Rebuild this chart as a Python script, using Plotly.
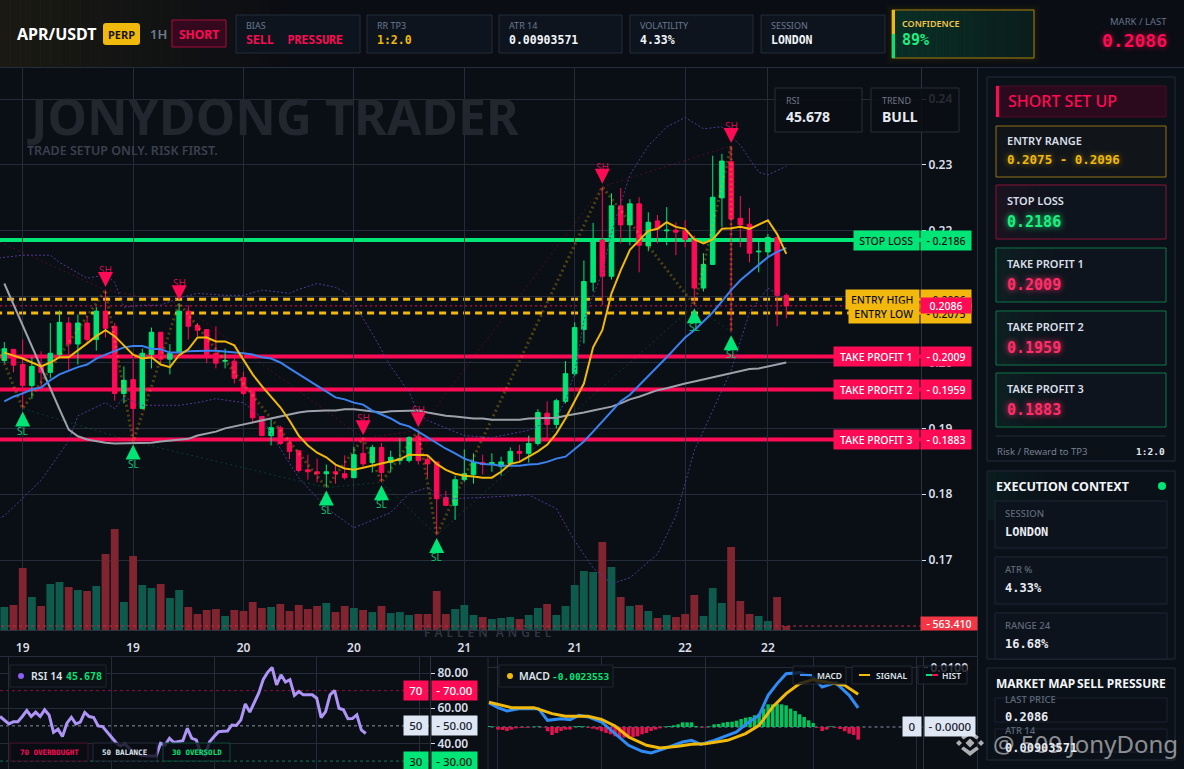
import plotly.graph_objects as go

W, H = 1184, 769

GREEN = "#00e676"
RED = "#ff0a54"
GOLD = "#f0b90b"
BG = "#0a0e15"
GRID = "#252c39"
FONT = "Noto Sans"
MONO = "DejaVu Sans Mono"

# candles
opens = [.2003, .2020, .1997, .1965, .1996, .1985, .2012, .2060, .2028, .2060, .2035, .2078, .2055, .1953, .1974, .1930,
         .2012, .2046, .2005, .2015, .2078, .2056, .2050, .2014, .2002, .2002, .1977, .1956, .1918, .1889, .1901, .1878,
         .1866, .1837, .1834, .1831, .1834, .1831, .1825, .1862, .1848, .1871, .1848, .1851, .1851, .1888, .1853, .1849,
         .1795, .1783, .1822, .1830, .1848, .1846, .1842, .1846, .1865, .1862, .1877, .1923, .1906, .1941, .1983, .2050,
         .2122, .2186, .2131, .2238, .2209, .2241, .2177, .2215, .2200, .2201, .2200, .2187, .2113, .2149, .2250, .2305,
         .2219, .2210, .2168, .2168, .2190, .2102]
highs = [.2031, .2020, .2035, .2008, .2017, .2060, .2079, .2069, .2073, .2070, .2084, .2110, .2060, .1994, .2005, .2021,
         .2053, .2046, .2028, .2090, .2087, .2060, .2050, .2055, .2021, .2012, .1986, .1958, .1918, .1913, .1904, .1886,
         .1866, .1860, .1854, .1845, .1846, .1859, .1872, .1885, .1875, .1878, .1866, .1885, .1888, .1897, .1859, .1849,
         .1805, .1828, .1868, .1862, .1860, .1862, .1857, .1871, .1875, .1889, .1929, .1941, .1945, .2002, .2061, .2155,
         .2212, .2267, .2257, .2265, .2248, .2251, .2228, .2224, .2236, .2213, .2216, .2193, .2166, .2314, .2317, .2329,
         .2253, .2235, .2183, .2195, .2190, .2105]
lows = [.1999, .1985, .1930, .1945, .1962, .1976, .2008, .1988, .1997, .2028, .2018, .2038, .1942, .1938, .1880, .1930,
        .1991, .1999, .1982, .2014, .2035, .2040, .1999, .1991, .1991, .1968, .1950, .1907, .1888, .1874, .1875, .1853,
        .1833, .1822, .1818, .1810, .1816, .1822, .1825, .1842, .1833, .1818, .1833, .1845, .1848, .1845, .1825, .1738,
        .1783, .1761, .1819, .1816, .1830, .1834, .1828, .1843, .1848, .1848, .1874, .1881, .1900, .1938, .1980, .2029,
        .2108, .2087, .2126, .2181, .2178, .2137, .2169, .2181, .2178, .2163, .2175, .2087, .2108, .2148, .2206, .2046,
        .2175, .2152, .2137, .2160, .2055, .2067]
closes = [.2021, .1996, .1965, .1994, .1985, .2014, .2061, .2028, .2060, .2035, .2078, .2052, .1953, .1973, .1930, .2014,
          .2046, .2005, .2014, .2078, .2055, .2049, .2012, .1999, .2003, .1976, .1953, .1916, .1889, .1901, .1877, .1865,
          .1836, .1834, .1831, .1834, .1831, .1825, .1860, .1846, .1871, .1833, .1856, .1854, .1886, .1851, .1846, .1793,
          .1783, .1822, .1831, .1848, .1845, .1848, .1849, .1865, .1862, .1877, .1924, .1906, .1942, .1983, .2053, .2123,
          .2184, .2131, .2238, .2209, .2241, .2178, .2213, .2203, .2201, .2198, .2187, .2113, .2149, .2251, .2306, .2218,
          .2209, .2166, .2169, .2190, .2102, .2086]
volumes = [3240, 3520, 8730, 4650, 3380, 6480, 6760, 6050, 5630, 5490, 6200, 10700, 14220, 3940, 10420, 6340, 5910, 6480,
           4510, 5630, 3240, 2250, 2820, 2960, 1970, 2820, 2680, 3940, 3100, 3240, 3660, 2680, 3520, 2960, 3380, 3800,
           2530, 3380, 3100, 2820, 2530, 3380, 2390, 2530, 2110, 2250, 2250, 5490, 2250, 2960, 3520, 2110, 1830, 1550,
           1690, 1830, 1550, 2110, 3100, 3660, 2110, 3380, 6340, 8310, 8170, 12390, 8870, 4650, 3380, 3520, 2680, 1690,
           2110, 1830, 2250, 4930, 1970, 5910, 3800, 11690, 4080, 2250, 1970, 1270, 4650, 563.41]

# moving averages
ema_fast = [.2015, .2011, .2006, .2000, .1994, .2000, .2008, .2008, .2018, .2029, .2040, .2049, .2040, .2026, .2012, .2006,
            .2008, .1997, .1993, .2011, .2020, .2038, .2038, .2032, .2032, .2026, .2003, .1982, .1964, .1948, .1932, .1912,
            .1889, .1874, .1863, .1856, .1845, .1839, .1837, .1840, .1843, .1846, .1849, .1853, .1860, .1860, .1859, .1846,
            .1837, .1831, .1828, .1827, .1825, .1825, .1834, .1846, .1849, .1857, .1865, .1875, .1892, .1915, .1942, .1968,
            .2023, .2049, .2105, .2140, .2171, .2186, .2200, .2203, .2213, .2206, .2203, .2187, .2181, .2187, .2203, .2204,
            .2206, .2203, .2210, .2216, .2195, .2165]
ema_mid = [.1941, .1948, .1953, .1959, .1962, .1973, .1982, .1988, .1993, .1997, .2006, .2012, .2018, .2023, .2025, .2025,
           .2021, .2020, .2015, .2015, .2017, .2018, .2018, .2018, .2017, .2015, .2014, .2012, .2008, .2006, .2000, .1991,
           .1982, .1973, .1965, .1955, .1947, .1944, .1939, .1936, .1927, .1921, .1915, .1907, .1903, .1895, .1886, .1877,
           .1869, .1862, .1854, .1849, .1846, .1845, .1843, .1843, .1843, .1845, .1846, .1849, .1854, .1857, .1868, .1880,
           .1895, .1910, .1926, .1941, .1951, .1965, .1979, .1993, .2008, .2023, .2038, .2049, .2063, .2076, .2093, .2110,
           .2125, .2137, .2148, .2160, .2168, .2174]
ma_slow = [.2120, .2088, .2056, .2025, .1993, .1959, .1929, .1898, .1888, .1883, .1880, .1878, .1877, .1877, .1877, .1878,
           .1878, .1880, .1881, .1883, .1884, .1889, .1892, .1895, .1900, .1903, .1906, .1909, .1913, .1916, .1919, .1922,
           .1924, .1926, .1927, .1927, .1927, .1929, .1929, .1927, .1926, .1924, .1926, .1926, .1927, .1927, .1924, .1921,
           .1919, .1918, .1916, .1915, .1915, .1913, .1913, .1913, .1913, .1915, .1915, .1916, .1916, .1919, .1921, .1924,
           .1927, .1930, .1933, .1938, .1944, .1948, .1953, .1958, .1961, .1965, .1968, .1971, .1974, .1977, .1980, .1983,
           .1986, .1990, .1991, .1994, .1997, .2000]

# bands, only where the curve bends
upper_idx = [-1, 2, 5, 6, 8, 9, 11, 12, 13, 15, 17, 19, 21, 24, 26, 28, 31, 32, 34, 36, 37, 38, 40, 42, 44, 45, 46, 48, 50,
             53, 57, 60, 61, 62, 63, 64, 65, 66, 67, 68, 70, 72, 74, 76, 78, 80, 82, 83, 85]
upper_band = [.2158, .2163, .2163, .2152, .2136, .2128, .2133, .2122, .2084, .2087, .2087, .2098, .2105, .2102, .2102,
              .2110, .2105, .2111, .2120, .2114, .2107, .2090, .2044, .1994, .1955, .1923, .1912, .1900, .1889, .1886,
              .1897, .1916, .1942, .1985, .2064, .2102, .2136, .2198, .2242, .2285, .2329, .2358, .2372, .2355, .2358,
              .2330, .2289, .2285, .2298]
lower_idx = [-1, 0, 4, 7, 8, 11, 12, 13, 15, 19, 21, 23, 26, 28, 30, 32, 35, 38, 42, 44, 46, 48, 52, 57, 60, 62, 64, 66, 68,
             71, 73, 75, 77, 79, 81, 83, 85]
lower_band = [.1760, .1767, .1821, .1881, .1919, .1939, .1930, .1947, .1935, .1935, .1939, .1945, .1939, .1916, .1869,
              .1825, .1779, .1749, .1772, .1801, .1810, .1793, .1795, .1799, .1778, .1729, .1688, .1664, .1673, .1709,
              .1767, .1866, .1927, .1988, .2076, .2113, .2095]

# swing points
sh_idx = [11, 19, 39, 45, 65, 79]
sl_idx = [2, 14, 35, 41, 47, 75, 79]
zigzag_idx = [-1, 2, 11, 14, 19, 35, 39, 41, 45, 47, 65, 75, 79, 79]
zigzag_kind = ["", "l", "h", "l", "h", "l", "h", "l", "h", "l", "h", "l", "h", "l"]
zigzag_start = .2034
sh_line_start = (-1, .2186)

# trade levels
level_names = ["STOP LOSS", "ENTRY HIGH", "ENTRY LOW", "TAKE PROFIT 1", "TAKE PROFIT 2", "TAKE PROFIT 3"]
level_prices = [.2186, .2096, .2075, .2009, .1959, .1883]
level_colors = [GREEN, "#f3b80d", "#f3b80d", RED, RED, RED]
level_text = ["#0b0f17", "#0b0f17", "#0b0f17", "#ffffff", "#ffffff", "#ffffff"]
level_left = [855, 847, 850, 835, 835, 835]
last_price = .2086

price_ticks = [.17, .18, .19, .20, .21, .22, .23, .24]
time_ticks = [2, 14, 26, 38, 50, 62, 74, 83]
time_labels = ["19", "19", "20", "20", "21", "21", "22", "22"]

rsi_values = [55.3, 53.0, 51.1, 52.4, 52.4, 55.3, 58.7, 55.3, 57.8, 55.3, 59.1, 56.2, 46.3, 48.1, 43.9, 51.5, 54.9, 51.1,
              52.1, 57.6, 55.3, 54.7, 50.0, 49.6, 46.7, 43.9, 40.5, 38.6, 39.7, 37.2, 35.3, 33.8, 33.2, 32.9, 32.9, 32.9,
              40.1, 39.1, 42.9, 40.5, 41.0, 41.6, 48.6, 42.9, 42.0, 34.4, 33.4, 41.0, 43.9, 46.7, 46.9, 47.1, 50.5, 50.2,
              53.4, 62.5, 57.8, 63.5, 68.6, 76.2, 80.4, 83.2, 73.3, 79.0, 74.9, 76.2, 67.3, 69.5, 67.6, 67.6, 67.6, 65.7,
              54.7, 58.1, 67.6, 70.1, 60.0, 59.1, 54.0, 54.1, 56.2, 47.7, 45.678]
rsi_ticks = [40, 60, 80]

macd_idx = [0, 2, 4, 7, 11, 13, 16, 18, 20, 22, 25, 28, 31, 34, 36, 39, 43, 45, 47, 50, 55, 57, 60, 62, 64, 66, 69, 72, 74,
            77, 80, 82]
macd_line = [.00407, .00328, .00271, .00311, .00311, .00113, .00141, .00124, .00198, .00170, .00085, -.00113, -.00311,
             -.00412, -.00441, -.00367, -.00254, -.00226, -.00294, -.00226, -.00085, .00045, .00198, .00537, .00735,
             .00904, .00921, .00848, .00678, .00751, .00537, .00322]
signal_idx = [0, 2, 5, 10, 14, 17, 22, 25, 28, 31, 35, 38, 42, 45, 48, 53, 57, 60, 63, 66, 69, 72, 75, 79, 82]
signal_line = [.00418, .00379, .00328, .00328, .00226, .00181, .00181, .00130, .00017, -.00170, -.00311, -.00356, -.00328,
               -.00294, -.00283, -.00226, -.00113, .00028, .00339, .00565, .00735, .00802, .00763, .00706, .00554]
macd_hist = [.00017, .00006, -.00045, -.00051, -.00068, -.00045, -.00023, -.00011, -.00011, -.00006, .00006, .00011,
             -.00006, -.00073, -.00136, -.00102, -.00068, -.00045, -.00045, .00011, .00017, .00011, -.00011, -.00028,
             -.00045, -.00073, -.00102, -.00124, -.00158, -.0017, -.00181, -.0017, -.0017, -.00158, -.00124, -.00102,
             -.00068, -.00045, -.00023, .00006, .00017, .00028, .00045, .00079, .00079, .00079, .00017, -.00006, -.00006,
             .00011, .00045, .00051, .00073, .00085, .0009, .00107, .00136, .00158, .0017, .00198, .00226, .00311, .00384,
             .00384, .00396, .00384, .00367, .00311, .00271, .00215, .0017, .00113, .00068, -.00011, -.00068, -.00045,
             .00011, -.00011, -.00034, -.00073, -.00113, -.00136, -.00215]

# header cards and side panel text
header_cards = [("BIAS", "SELL  PRESSURE", RED, 236, 360), ("RR TP3", "1:2.0", GOLD, 367, 492),
                ("ATR 14", "0.00903571", "#f2f5fa", 499, 622), ("VOLATILITY", "4.33%", "#f2f5fa", 630, 753),
                ("SESSION", "LONDON", "#f2f5fa", 761, 885)]
setup_cards = [("STOP LOSS", "0.2186", "#1cf07f", "#8b1238", 185, 239), ("TAKE PROFIT 1", "0.2009", "#ff2d68", "#0d7a4c", 248, 302),
               ("TAKE PROFIT 2", "0.1959", "#ff2d68", "#0d7a4c", 311, 365), ("TAKE PROFIT 3", "0.1883", "#ff2d68", "#0d7a4c", 373, 427)]
context_cards = [("SESSION", "LONDON", 501, 548), ("ATR %", "4.33%", 557, 604), ("RANGE 24", "16.68%", 613, 659)]
map_cards = [("LAST PRICE", "0.2086", 698, 722), ("ATR 14", "0.00903571", 729, 752)]


def px(x):
    return x / W


def py(y):
    return 1 - y / H


shapes = []
annos = []


def box(x0, y0, x1, y1, fill="rgba(0,0,0,0)", line=None, width=1, layer="below"):
    shapes.append(dict(type="rect", xref="paper", yref="paper", x0=px(x0), x1=px(x1), y0=py(y0), y1=py(y1),
                       fillcolor=fill, line=dict(color=line or "rgba(0,0,0,0)", width=width if line else 0), layer=layer))


def fade(x0, y0, x1, y1, rgb, a0, a1, n=20, layer="below"):
    # no gradient fill for shapes, so lay thin strips
    step = (x1 - x0) / n
    for k in range(n):
        a = a0 + (a1 - a0) * k / (n - 1)
        box(x0 + k * step, y0, x0 + (k + 1) * step + 0.5, y1, f"rgba({rgb},{a:.3f})", layer=layer)


def text(x, y, s, size=11, color="#ffffff", weight=400, family=FONT, anchor="left", shadow=None, opacity=None):
    font = dict(size=size, color=color, family=family, weight=weight)
    if shadow:
        font["shadow"] = shadow
    a = dict(xref="paper", yref="paper", x=px(x), y=py(y), text=s, showarrow=False, font=font, xanchor=anchor,
             yanchor="middle", borderpad=0)
    if opacity is not None:
        a["opacity"] = opacity
    annos.append(a)


def path(d, color, layer="above"):
    shapes.append(dict(type="path", xref="paper", yref="paper", path=d, fillcolor=color, line=dict(width=0), layer=layer))


def pts(seq):
    return "M" + "L".join(f"{px(x):.5f},{py(y):.5f}" for x, y in seq) + "Z"


def diamond(cx, cy, r, color):
    path(pts([(cx - r, cy), (cx, cy - r), (cx + r, cy), (cx, cy + r)]), color)


# page background
box(0, 0, W, H, BG)
box(0, 0, W, 67, "#0a0d14")
fade(0, 0, 320, 67, "240,185,11", 0.07, 0.0, 32)
shapes.append(dict(type="line", xref="paper", yref="paper", x0=0, x1=1, y0=py(67.5), y1=py(67.5),
                   line=dict(color="#262d3a", width=1), layer="below"))

# header
text(16, 34, "APR/USDT", 16, "#ffffff", 700)
path("M" + f"{px(106)},{py(23)}L{px(137)},{py(23)}Q{px(140)},{py(23)} {px(140)},{py(26)}L{px(140)},{py(42)}"
     f"Q{px(140)},{py(45)} {px(137)},{py(45)}L{px(106)},{py(45)}Q{px(103)},{py(45)} {px(103)},{py(42)}"
     f"L{px(103)},{py(26)}Q{px(103)},{py(23)} {px(106)},{py(23)}Z", GOLD, layer="below")
text(121.5, 34, "PERP", 11, "#1a1408", 700, anchor="center")
text(149, 34, "1H", 13, "#6d7a8c", 600)
box(172, 20, 226, 47, "#35091d", "#a50f3d", 1)
text(199, 34, "SHORT", 12, RED, 700, anchor="center")

for name, val, col, x0, x1 in header_cards:
    box(x0, 15, x1, 53, "#0e141e", "#232c3a", 1)
    text(x0 + 9, 26, name, 9, "#6a7890")
    text(x0 + 9, 40, val, 11.5, col, 700, MONO)

for k in range(4):
    box(892 - 2 * k, 10 - 2 * k, 1034 + 2 * k, 58 + 2 * k, f"rgba(240,185,11,{0.035 - k * 0.007:.3f})")
box(892, 10, 1034, 58, "#0b1a1c", "#a9860f", 1)
fade(895, 11, 1033, 57, "0,230,118", 0.10, 0.02, 20)
box(892, 10, 895, 34, GOLD)
box(892, 34, 895, 58, GREEN)
text(901, 23, "CONFIDENCE", 9, "#f3c64a", 600)
text(901, 40, "89%", 15, "#1cf07f", 700, MONO)

text(1168, 22, "MARK / LAST", 9.5, "#66728a", anchor="right")
text(1168, 40, "0.2086", 18, RED, 700, MONO, anchor="right", shadow="0 0 6px rgba(255,10,84,.6)")

# watermark text on the main pane
text(26, 116, "JONYDONG TRADER", 50, "#21262f", 700)
text(26, 150, "TRADE SETUP ONLY. RISK FIRST.", 12.5, "#3a414e", 600)
text(488, 632, "\u2009\u2009".join("FALLEN") + "\u2009\u2009\u2009\u2009" + "\u2009\u2009".join("ANGEL"), 12, "#2f3540", 600, anchor="center")

# pane separators
shapes.append(dict(type="line", xref="paper", yref="paper", x0=0, x1=px(978), y0=py(656.5), y1=py(656.5),
                   line=dict(color="#252c3c", width=1), layer="below"))
shapes.append(dict(type="line", xref="paper", yref="paper", x0=px(488), x1=px(488), y0=py(657), y1=0,
                   line=dict(color="#252c3c", width=1), layer="below"))
shapes.append(dict(type="line", xref="paper", yref="paper", x0=px(977.5), x1=px(977.5), y0=py(68), y1=0,
                   line=dict(color="#252c3c", width=1), layer="below"))

# overlay stat boxes on the chart
for x0, x1, name, val in [(775, 862, "RSI", "45.678"), (871, 959, "TREND", "BULL")]:
    box(x0, 88, x1, 132, "rgba(10,13,20,.86)", "#262e3c", 1, layer="above")
    text(x0 + 10, 101, name, 9, "#6d7686")
    text(x0 + 10, 116, val, 14, "#e6ebf2", 700)

# right side panels
box(978, 68, W, H, "#0a1018")
box(987, 77, 1175, 461, "#0b1119", "#212b3b", 1)
box(996, 86, 1166, 117, "#2a0a1c", "#4a0d28", 1)
box(996, 86, 999, 117, RED)
text(1007, 101, "SHORT SET UP", 16, RED, 500)
box(996, 126, 1166, 177, "#11151a", "#8f7214", 1)
text(1006, 140, "ENTRY RANGE", 11, "#d9dfe8", 600)
text(1006, 159, "0.2075 - 0.2096", 12.5, GOLD, 700, MONO, shadow="0 0 6px rgba(240,185,11,.6)")
for name, val, col, edge, y0, y1 in setup_cards:
    box(996, y0, 1166, y1, "#0e141d", edge, 1)
    fade(997, y0 + 1, 1060, y1 - 1, "0,230,118" if edge == "#0d7a4c" else "255,10,84", 0.05, 0.0, 10)
    text(1006, y0 + 15, name, 11, "#d9dfe8", 600)
    text(1006, y0 + 37, val, 15, col, 700, MONO, shadow=f"0 0 6px {col}")
shapes.append(dict(type="line", xref="paper", yref="paper", x0=px(996), x1=px(1166), y0=py(436), y1=py(436),
                   line=dict(color="#212b3b", width=1), layer="below"))
text(996, 451, "Risk / Reward to TP3", 9.5, "#76808f")
text(1166, 451, "1:2.0", 9.5, "#e4e8ef", 700, MONO, anchor="right")

box(987, 471, 1175, 659, "#0b1119", "#212b3b", 1)
fade(988, 472, 1060, 520, "0,230,118", 0.05, 0.0, 10)
text(995, 486, "EXECUTION CONTEXT", 12.5, "#f2f5fa", 700)
shapes.append(dict(type="circle", xref="paper", yref="paper", x0=px(1158), x1=px(1166), y0=py(482), y1=py(490),
                   fillcolor=GREEN, line=dict(width=0), layer="below"))
for name, val, y0, y1 in context_cards:
    box(995, y0, 1167, y1, "#0d131c", "#1e2735", 1)
    text(1004, y0 + 12, name, 9.5, "#5f6a7a", 500)
    text(1004, y0 + 31, val, 12, "#e8ecf3", 700, MONO)

box(987, 668, 1175, 760, "#0b1119", "#212b3b", 1)
text(995, 683, "MARKET MAP", 12, "#f2f5fa", 700)
text(1167, 683, "SELL PRESSURE", 12, "#f2f5fa", 700, anchor="right")
for name, val, y0, y1 in map_cards:
    box(995, y0, 1167, y1, "#0b1018", "#1a2230", 1)
    text(1004, y0 + 1, name, 9.5, "#5f6a7a", 500)
    text(1004, y0 + 19, val, 12, "#e8ecf3", 700, MONO)

# rsi pane legends
box(10, 665, 106, 687, "#0b0f16", "#1e2431", 1, layer="above")
shapes.append(dict(type="circle", xref="paper", yref="paper", x0=px(18), x1=px(24), y0=py(673), y1=py(679),
                   fillcolor="#8b5cf6", line=dict(width=0), layer="above"))
text(30, 676, "RSI 14", 10.5, "#dfe4ec", 600)
text(65, 676, "45.678", 10, GREEN, 600, MONO)
for x0, x1, s, col, edge in [(10, 88, "70 OVERBOUGHT", RED, "#4a0d28"), (93, 157, "50 BALANCE", "#dfe4ec", "#222937"),
                             (163, 230, "30 OVERSOLD", GREEN, "#0c4a38")]:
    box(x0, 743, x1, 761, "rgba(10,13,20,.8)", edge, 1, layer="above")
    text((x0 + x1) / 2, 752, s, 7.5, col, 600, MONO, anchor="center")

# macd pane legends
box(499, 665, 613, 687, "#0b0f16", "#1e2431", 1, layer="above")
shapes.append(dict(type="circle", xref="paper", yref="paper", x0=px(507), x1=px(513), y0=py(673), y1=py(679),
                   fillcolor=GOLD, line=dict(width=0), layer="above"))
text(518, 676, "MACD", 10.5, "#dfe4ec", 600)
text(551, 676, "-0.0023553", 9.5, GREEN, 600, MONO)
for x0, x1, s, tx in [(793, 846, "MACD", 816), (852, 912, "SIGNAL", 875), (918, 967, "HIST", 941)]:
    box(x0, 666, x1, 684, "rgba(10,13,20,.8)", "#222937", 1, layer="above")
    text(tx, 675, s, 8.5, "#dfe4ec", 600)
box(800, 674, 812, 676, "#3b8bf6", layer="above")
box(859, 674, 870, 676, GOLD, layer="above")
box(926, 674, 932, 676, GREEN, layer="above")
box(932, 674, 938, 676, RED, layer="above")

# logo and repost mark, bottom right
for cx, cy, r in [(970, 743, 4.5), (959, 743, 3), (981, 743, 3)]:
    diamond(cx, cy, r, "rgba(215,215,215,.8)")
path(pts([(970, 730), (979, 737), (976.5, 739.5), (970, 735), (963.5, 739.5), (961, 737)]), "rgba(215,215,215,.8)")
path(pts([(970, 756), (979, 749), (976.5, 746.5), (970, 751), (963.5, 746.5), (961, 749)]), "rgba(215,215,215,.8)")

# price levels stay under the candles
for price, col, name in zip(level_prices, level_colors, level_names):
    entry = name.startswith("ENTRY")
    shapes.append(dict(type="line", xref="x", yref="y2", x0=-1, x1=100, y0=price, y1=price, layer="below",
                       line=dict(color=col, width=3 if entry else 4, dash="7px,5px" if entry else "solid")))
shapes.append(dict(type="line", xref="x", yref="y2", x0=-1, x1=100, y0=last_price, y1=last_price, layer="below",
                   line=dict(color=RED, width=1, dash="2px,3px")))
shapes.append(dict(type="line", xref="x", yref="y", x0=-1, x1=100, y0=volumes[-1], y1=volumes[-1], layer="above",
                   line=dict(color="#b8324a", width=1, dash="3px,3px")))
for lv, col in [(70, "#8b1238"), (50, "#8a93a3"), (30, "#0f7a55")]:
    shapes.append(dict(type="line", xref="x2", yref="y3", x0=0, x1=97, y0=lv, y1=lv, layer="below",
                       line=dict(color=col, width=1, dash="3px,3px")))
shapes.append(dict(type="line", xref="x3", yref="y4", x0=-1, x1=98, y0=0, y1=0, layer="below",
                   line=dict(color="#8a93a3", width=1, dash="3px,3px")))

# price tags at the right
for name, price, col, tc, left in zip(level_names, level_prices, level_colors, level_text, level_left):
    font = dict(size=10.5, color=tc, family=FONT, weight=500)
    annos.append(dict(xref="paper", yref="y2", x=px(919.5), y=price, text=name, xanchor="right", yanchor="middle",
                      width=919.5 - left, height=19, bgcolor=col, showarrow=False, font=font, align="center", borderpad=0))
    annos.append(dict(xref="paper", yref="y2", x=px(920), y=price, text="- " + f"{price:.4f}", xanchor="left",
                      yanchor="middle", width=50, height=19, bgcolor=col, showarrow=False, font=font, align="center", borderpad=0))
annos.append(dict(xref="paper", yref="y2", x=px(920), y=last_price, text=f"{last_price:.4f}", xanchor="left",
                  yanchor="middle", width=50, height=15, bgcolor=RED, showarrow=False, align="center", borderpad=0,
                  font=dict(size=10.5, color="#ffffff", family=FONT, weight=500)))
annos.append(dict(xref="paper", yref="paper", x=px(920), y=py(623.5), text="- 563.410", xanchor="left", yanchor="middle",
                  width=56, height=13, bgcolor="#f23645", showarrow=False, align="center", borderpad=0,
                  font=dict(size=10.5, color="#ffffff", family=FONT, weight=500)))

for lv, bg, tc in [(70, RED, "#ffffff"), (50, "#dfe7f5", "#1a202c"), (30, GREEN, "#0b2018")]:
    font = dict(size=11.5, color=tc, family=FONT, weight=500)
    annos.append(dict(xref="paper", yref="y3", x=px(429), y=lv, text=str(lv), xanchor="right", yanchor="middle", width=24,
                      height=19, bgcolor=bg, showarrow=False, font=font, align="center", borderpad=0))
    annos.append(dict(xref="paper", yref="y3", x=px(430.5), y=lv, text=f"- {lv}.00", xanchor="left", yanchor="middle",
                      width=45, height=19, bgcolor=bg, showarrow=False, font=font, align="center", borderpad=0))
font = dict(size=11.5, color="#1a202c", family=FONT, weight=500)
annos.append(dict(xref="paper", yref="y4", x=px(922), y=0, text="0", xanchor="right", yanchor="middle", width=18, height=19,
                  bgcolor="#dfe7f5", showarrow=False, font=font, align="center", borderpad=0))
annos.append(dict(xref="paper", yref="y4", x=px(923.5), y=0, text="- 0.0000", xanchor="left", yanchor="middle", width=50,
                  height=19, bgcolor="#dfe7f5", showarrow=False, font=font, align="center", borderpad=0))

# swing labels
for i in sh_idx:
    annos.append(dict(xref="x", yref="y2", x=i, y=highs[i], text="SH", ax=0, ay=-20, showarrow=True, arrowhead=2, arrowsize=1,
                      arrowwidth=3, arrowcolor=RED, standoff=3, font=dict(size=10, color="#c8104c", family=FONT)))
for i in sl_idx:
    annos.append(dict(xref="x", yref="y2", x=i, y=lows[i], text="SL", ax=0, ay=22, showarrow=True, arrowhead=2, arrowsize=1,
                      arrowwidth=3, arrowcolor=GREEN, standoff=3, font=dict(size=10, color="#12c271", family=FONT)))

# repost mark sits on top of the panel
text(992, 743, "@ 509 JonyDong", 24, "rgba(225,225,225,.62)", 400, "Noto Sans")

candle_x = list(range(len(closes)))
vol_colors = ["#0e5a4d" if c >= o else "#80252f" for o, c in zip(opens, closes)]
zigzag_y = [zigzag_start] + [highs[i] if k == "h" else lows[i] for i, k in zip(zigzag_idx[1:], zigzag_kind[1:])]

fig = go.Figure()
fig.add_trace(go.Bar(x=candle_x, y=volumes, width=0.85, marker=dict(color=vol_colors, line=dict(width=0)), xaxis="x", yaxis="y"))
fig.add_trace(go.Candlestick(x=candle_x, open=opens, high=highs, low=lows, close=closes, xaxis="x", yaxis="y2",
                             increasing=dict(line=dict(color=GREEN, width=1), fillcolor=GREEN),
                             decreasing=dict(line=dict(color=RED, width=1), fillcolor=RED), whiskerwidth=0))
fig.add_trace(go.Scatter(x=upper_idx, y=upper_band, mode="lines", line=dict(color="#4f3b94", width=1, dash="2px,2px"), xaxis="x", yaxis="y2"))
fig.add_trace(go.Scatter(x=lower_idx, y=lower_band, mode="lines", line=dict(color="#4f3b94", width=1, dash="2px,2px"), xaxis="x", yaxis="y2"))
fig.add_trace(go.Scatter(x=zigzag_idx, y=zigzag_y, mode="lines", line=dict(color="rgba(240,185,11,.3)", width=3, dash="2px,3px"), xaxis="x", yaxis="y2"))
fig.add_trace(go.Scatter(x=[sh_line_start[0]] + sh_idx, y=[sh_line_start[1]] + [highs[i] for i in sh_idx], mode="lines",
                         line=dict(color="rgba(255,10,84,.28)", width=1, dash="2px,3px"), xaxis="x", yaxis="y2"))
fig.add_trace(go.Scatter(x=sl_idx, y=[lows[i] for i in sl_idx], mode="lines",
                         line=dict(color="rgba(0,230,118,.22)", width=1, dash="2px,3px"), xaxis="x", yaxis="y2"))
fig.add_trace(go.Scatter(x=candle_x, y=ma_slow, mode="lines", line=dict(color="#9ca1ab", width=2), xaxis="x", yaxis="y2"))
fig.add_trace(go.Scatter(x=candle_x, y=ema_mid, mode="lines", line=dict(color="#3b82f0", width=2), xaxis="x", yaxis="y2"))
fig.add_trace(go.Scatter(x=candle_x, y=ema_fast, mode="lines", line=dict(color=GOLD, width=2), xaxis="x", yaxis="y2"))

fig.add_trace(go.Scatter(x=list(range(len(rsi_values))), y=rsi_values, mode="lines", line=dict(color="#ae95f5", width=3), xaxis="x2", yaxis="y3"))

hist_x = list(range(len(macd_hist)))
fig.add_trace(go.Bar(x=hist_x, y=macd_hist, width=0.78, marker=dict(color=["#00c45e" if v >= 0 else "#e6114f" for v in macd_hist], line=dict(width=0)),
                     xaxis="x3", yaxis="y4"))
fig.add_trace(go.Scatter(x=macd_idx, y=macd_line, mode="lines", line=dict(color="#2f8cf5", width=3), xaxis="x3", yaxis="y4"))
fig.add_trace(go.Scatter(x=signal_idx, y=signal_line, mode="lines", line=dict(color=GOLD, width=3), xaxis="x3", yaxis="y4"))

tick_font = dict(size=12, color="#d8dde6", family=FONT, weight=600)
fig.update_layout(
    width=W, height=H, margin=dict(l=0, r=0, t=0, b=0), autosize=False, showlegend=False, hovermode=False,
    paper_bgcolor=BG, plot_bgcolor="rgba(0,0,0,0)", font=dict(family=FONT), barmode="overlay",
    shapes=shapes, annotations=annos,
    xaxis=dict(domain=[0, px(921)], range=[-0.467, 99.64], tickvals=time_ticks, ticktext=time_labels, tickfont=tick_font,
               showgrid=True, gridcolor=GRID, zeroline=False, showline=True, linecolor="#2b3240", ticks="outside", ticklen=7,
               tickcolor="rgba(0,0,0,0)", rangeslider=dict(visible=False), anchor="y"),
    yaxis=dict(domain=[py(630), py(68)], range=[0, 79130], visible=False, fixedrange=True),
    yaxis2=dict(domain=[py(630), py(68)], range=[.15937, .24473], overlaying="y", anchor="x", side="right", tickvals=price_ticks,
                tickformat=".2f", tickfont=tick_font, showgrid=True, gridcolor=GRID, zeroline=False, showline=True,
                linecolor="#2b3240", ticks="outside", ticklen=4, tickcolor="#d8dde6"),
    xaxis2=dict(domain=[0, px(430)], range=[0, 96.4], tickvals=[2, 25, 48, 71, 94], showticklabels=False, showgrid=True,
                gridcolor=GRID, zeroline=False, showline=False, anchor="y3"),
    yaxis3=dict(domain=[0, py(657)], range=[25.5, 89.1], anchor="x2", side="right", tickvals=rsi_ticks, tickformat=".2f",
                tickfont=tick_font, showgrid=True, gridcolor=GRID, zeroline=False, showline=True, linecolor="#2b3240",
                ticks="outside", ticklen=4, tickcolor="#d8dde6"),
    xaxis3=dict(domain=[px(488), px(923)], range=[-0.22, 96.4], tickvals=[2, 25, 48, 72, 95], showticklabels=False, showgrid=True,
                gridcolor=GRID, zeroline=False, showline=False, anchor="y4"),
    yaxis4=dict(domain=[0, py(657)], range=[-.00712, .01186], anchor="x3", side="right", tickvals=[.01], tickformat=".4f",
                tickfont=tick_font, showgrid=True, gridcolor=GRID, zeroline=False, showline=True, linecolor="#2b3240",
                ticks="outside", ticklen=4, tickcolor="#d8dde6"),
)

fig.write_html("out.html", config={"displayModeBar": False, "staticPlot": True},
               post_script="document.body.style.margin='0';document.body.style.overflow='hidden';")
